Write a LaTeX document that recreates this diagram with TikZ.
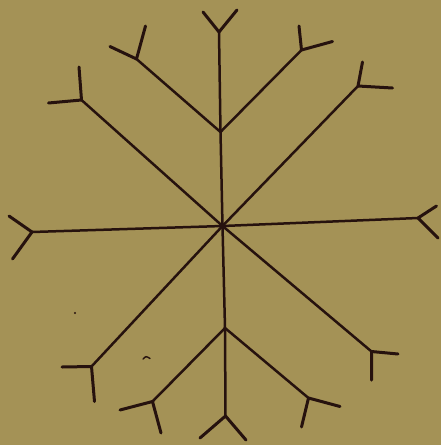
\documentclass[tikz,border=0pt]{standalone}
\definecolor{paper}{RGB}{164,146,86}
\definecolor{ink}{RGB}{38,18,14}
\tikzset{arm/.style={ink,line width=2.5pt,line cap=round,line join=round},
  fork/.style={ink,line width=3pt,line cap=round,line join=round}}
\begin{document}
\begin{tikzpicture}[x=1pt,y=-1pt]
  \useasboundingbox (0,0) rectangle (441,445);
  \fill[paper] (0,0) rectangle (441,445);
  % centre and the two chevron apexes
  \coordinate (c) at (222.5,226);
  \coordinate (ta) at (220.5,132);
  \coordinate (ba) at (225,328);
  % arm ends (fork joints)
  \coordinate (n) at (219,32);
  \coordinate (s) at (225.5,416);
  \coordinate (w) at (32,232);
  \coordinate (e) at (418,218);
  \coordinate (nw) at (81.5,100);
  \coordinate (ne) at (358,86);
  \coordinate (sw) at (91.5,366.5);
  \coordinate (se) at (371.5,351.5);
  \coordinate (tl) at (136.5,59);
  \coordinate (tr) at (301.5,50);
  \coordinate (bl) at (152.5,401.5);
  \coordinate (br) at (308.5,398);
  % fork tips
  \coordinate (n1) at (203,12);   \coordinate (n2) at (237,10);
  \coordinate (s1) at (200,438);  \coordinate (s2) at (246,440);
  \coordinate (w1) at (9,216);    \coordinate (w2) at (12.5,259);
  \coordinate (e1) at (436.5,206); \coordinate (e2) at (438,238);
  \coordinate (nw1) at (79,67);   \coordinate (nw2) at (48.5,103);
  \coordinate (ne1) at (362.5,62); \coordinate (ne2) at (392.5,88);
  \coordinate (sw1) at (62,367);  \coordinate (sw2) at (94.5,401.5);
  \coordinate (se1) at (398,354); \coordinate (se2) at (371.5,380);
  \coordinate (tl1) at (110,46.5); \coordinate (tl2) at (145.5,26);
  \coordinate (tr1) at (299,26);  \coordinate (tr2) at (332.5,41.5);
  \coordinate (bl1) at (120,410); \coordinate (bl2) at (161,433);
  \coordinate (br1) at (340,406.5); \coordinate (br2) at (301.5,427);
  % star arms
  \draw[arm] (n)--(ta)--(c)--(ba)--(s);
  \draw[arm] (w)--(c)--(e);
  \draw[arm] (nw)--(c)--(se);
  \draw[arm] (ne)--(c)--(sw);
  \draw[arm] (tl)--(ta)--(tr);
  \draw[arm] (bl)--(ba)--(br);
  % forks
  \foreach \p in {n,s,w,e,nw,ne,sw,se,tl,tr,bl,br}
    \draw[fork] (\p1)--(\p)--(\p2);
  \fill[ink] (c) circle (2.5pt);
  % specks
  \fill[ink] (75,313) circle (1.1pt);
  \draw[ink,line width=1.4pt,line cap=round] (143,359) .. controls (146,356) .. (150,358.5);
\end{tikzpicture}
\end{document}
